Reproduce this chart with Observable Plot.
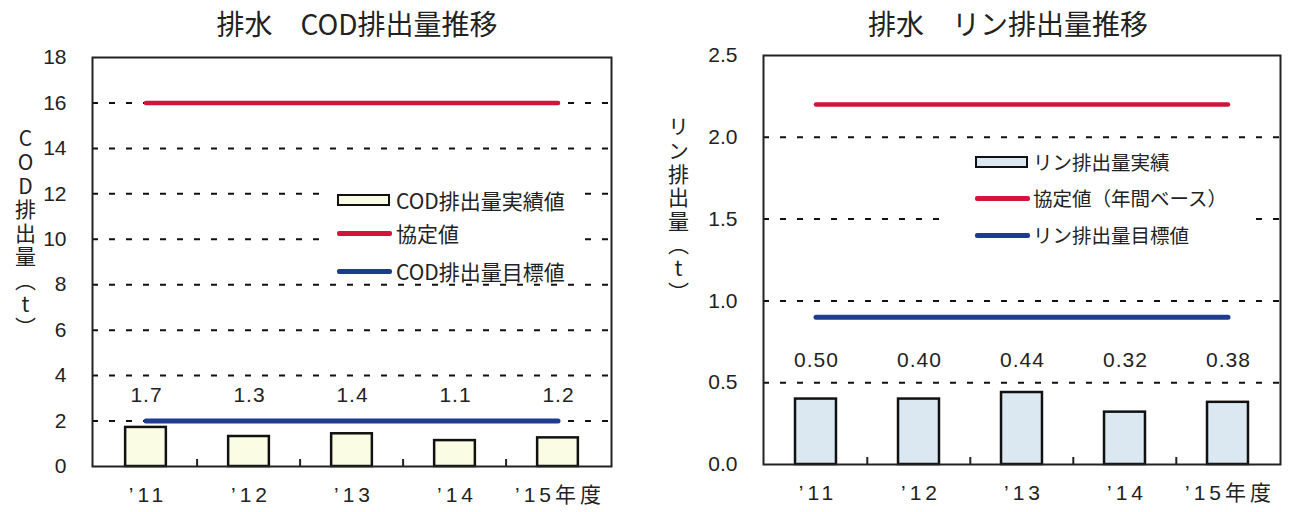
<!DOCTYPE html>
<html><head><meta charset="utf-8">
<script src="https://cdn.jsdelivr.net/npm/d3@7"></script>
<script src="https://cdn.jsdelivr.net/npm/@observablehq/plot@0.6"></script>
<style>
body{margin:0;background:#fff;width:1291px;height:512px;position:relative;overflow:hidden;font-family:"Liberation Sans","Noto Sans CJK JP",sans-serif;color:#222;}
.panel{position:absolute;top:0;}
.panel svg g[aria-label="x-axis tick label"] text{letter-spacing:4px;}
.panel svg g[aria-label="text"] text{letter-spacing:1px;}
.title{position:absolute;top:5px;font-family:"Noto Sans CJK JP",sans-serif;font-size:28px;white-space:nowrap;transform:translateX(-50%);line-height:36px;}
.ylab{position:absolute;writing-mode:vertical-rl;text-orientation:upright;font-family:"Noto Sans CJK JP",sans-serif;font-size:21px;letter-spacing:2.6px;line-height:1;transform:translateX(-50%);}
.legend{position:absolute;background:#fff;font-family:"Noto Sans CJK JP",sans-serif;}
.sw{position:absolute;box-sizing:border-box;}
.lt{position:absolute;white-space:nowrap;line-height:1;transform:translateY(-50%);}
</style></head><body>
<div id="left" class="panel" style="left:0px"></div>
<div id="right" class="panel" style="left:651px"></div>
<script>
// ---- data ----
const years = ["’11", "’12", "’13", "’14", "’15年度"];
const codActual = [1.72, 1.32, 1.44, 1.14, 1.26];
const codLabels = ["1.7", "1.3", "1.4", "1.1", "1.2"];
const codAgreement = 16;
const codTarget = 2.0;
const codTicks = [0, 2, 4, 6, 8, 10, 12, 14, 16, 18];
const phosActual = [0.40, 0.40, 0.44, 0.32, 0.38];
const phosLabels = ["0.50", "0.40", "0.44", "0.32", "0.38"];
const phosAgreement = 2.2;
const phosTarget = 0.9;
const phosTicks = [0, 0.5, 1.0, 1.5, 2.0, 2.5];

const titles = ["排水　COD排出量推移", "排水　リン排出量推移"];
const yTitles = ["COD排出量（t）", "リン排出量（t）"];
const codLegend = ["COD排出量実績値", "協定値", "COD排出量目標値"];
const phosLegend = ["リン排出量実績", "協定値（年間ベース）", "リン排出量目標値"];

const RED = "#d2143a", BLUE = "#1e3c8f";

function panel(o) {
  const rows = years.map((y, i) => ({year: y, value: o.values[i], label: o.labels[i]}));
  const agreeRows = years.map(y => ({year: y, v: o.agree}));
  const targetRows = years.map(y => ({year: y, v: o.target}));
  const band = (o.width - o.ml - o.mr) / years.length;
  const frameH = o.height - o.mt - o.mb;
  return Plot.plot({
    width: o.width, height: o.height,
    marginTop: o.mt, marginBottom: o.mb, marginLeft: o.ml, marginRight: o.mr,
    style: {fontFamily: '"Liberation Sans","Noto Sans CJK JP",sans-serif', fontSize: "21px", color: "#222", background: "transparent", overflow: "visible"},
    x: {domain: years, padding: 0},
    y: {domain: [o.ticks[0], o.ticks[o.ticks.length - 1]]},
    marks: [
      Plot.gridY(o.ticks.slice(1, -1), {stroke: "#111", strokeOpacity: 1, strokeWidth: 2, strokeDasharray: "6,11"}),
      Plot.barY(rows, {x: "year", y: "value", fill: o.fill, stroke: "#111", strokeWidth: 2.5, insetLeft: band * 0.3, insetRight: band * 0.3}),
      Plot.ruleX(years.slice(1), {x: d => d, dx: -band / 2, insetTop: frameH - 7, stroke: "#222", strokeWidth: 2}),
      Plot.lineY(agreeRows, {x: "year", y: "v", stroke: RED, strokeWidth: 4.5}),
      Plot.lineY(targetRows, {x: "year", y: "v", stroke: BLUE, strokeWidth: 5}),
      Plot.text(rows, {x: "year", text: "label", frameAnchor: "bottom", dy: -o.labelDy, dx: 0.5, fontSize: 21, fill: "#222"}),
      Plot.axisY(o.ticks, {tickSize: 0, tickPadding: 26, tickFormat: o.fmt, label: null, fontSize: 21}),
      Plot.axisX({tickSize: 0, tickPadding: 21, dx: 2, label: null, fontSize: 21}),
      Plot.frame({stroke: "#222", strokeWidth: 2})
    ]
  });
}

document.getElementById("left").append(panel({
  values: codActual, labels: codLabels, agree: codAgreement, target: codTarget, ticks: codTicks,
  fill: "#fafce4", width: 640, height: 512, mt: 57, mb: 46, ml: 92, mr: 29, labelDy: 65, fmt: d => String(d)
}));
document.getElementById("right").append(panel({
  values: phosActual, labels: phosLabels, agree: phosAgreement, target: phosTarget, ticks: phosTicks,
  fill: "#dbe8f2", width: 640, height: 512, mt: 55, mb: 48, ml: 112, mr: 11, labelDy: 98, fmt: d => d.toFixed(1)
}));

function addDiv(cls, style, text) {
  const d = document.createElement("div");
  d.className = cls;
  Object.assign(d.style, style);
  if (text != null) d.textContent = text;
  document.body.append(d);
  return d;
}
// titles
addDiv("title", {left: "357px"}, titles[0]);
addDiv("title", {left: "1008px"}, titles[1]);
// y axis titles
addDiv("ylab", {left: "25px", top: "128px"}, yTitles[0]);
addDiv("ylab", {left: "678px", top: "116px"}, yTitles[1]);

// legends
function legend(box, items, fill, fontSize) {
  addDiv("legend", {left: box.x + "px", top: box.y + "px", width: box.w + "px", height: box.h + "px"});
  const [bar, red, blue] = box.rows;
  addDiv("sw", {left: box.sx + "px", top: (bar - 6) + "px", width: "53px", height: "12px", background: fill, border: "2px solid #111"});
  addDiv("sw", {left: box.sx + "px", top: (red - 2.5) + "px", width: "55px", height: "5px", background: RED, borderRadius: "2px"});
  addDiv("sw", {left: box.sx + "px", top: (blue - 2.5) + "px", width: "55px", height: "5px", background: BLUE, borderRadius: "2px"});
  items.forEach((t, i) => addDiv("lt", {left: box.tx + "px", top: box.rows[i] + "px", fontSize: fontSize + "px", fontFamily: '"Noto Sans CJK JP",sans-serif'}, t));
}
legend({x: 330, y: 178, w: 250, h: 102, sx: 337, tx: 396, rows: [200, 233, 271]}, codLegend, "#fafce4", 21);
legend({x: 945, y: 145, w: 305, h: 108, sx: 975, tx: 1033, rows: [162, 198, 235]}, phosLegend, "#dbe8f2", 19.5);
</script>
</body></html>
